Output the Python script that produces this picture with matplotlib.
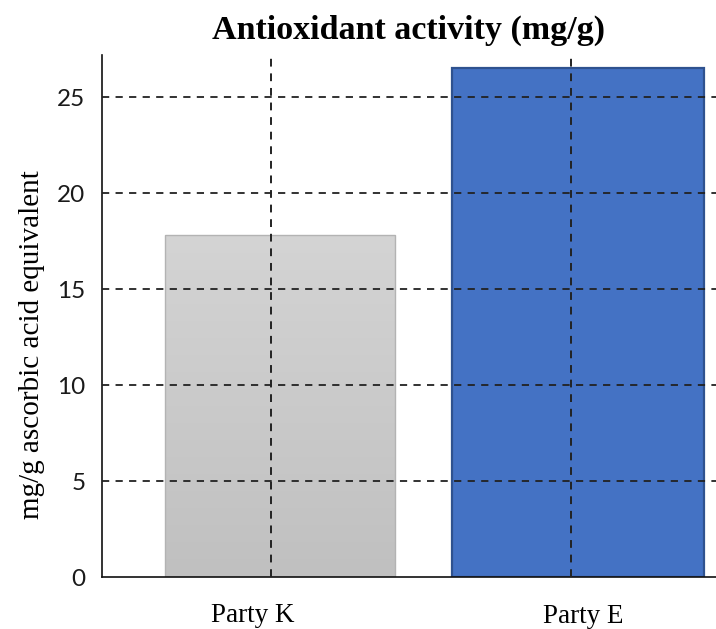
import matplotlib
matplotlib.use("Agg")
import matplotlib.pyplot as plt
import matplotlib.transforms as mtransforms
from matplotlib.colors import LinearSegmentedColormap
import numpy as np

categories = ["Party K", "Party E"]
values = [17.8, 26.5]
yticks = [0, 5, 10, 15, 20, 25]
title = "Antioxidant activity (mg/g)"
ylabel = "mg/g ascorbic acid equivalent"

W, H = 716, 629
fig = plt.figure(figsize=(W / 100, H / 100), dpi=100)
ax = fig.add_axes([102 / W, 1 - 577 / H, (716 - 102) / W, (577 - 55) / H])

pos = np.array([0.0, 1.0])
widths = [0.772, 0.846]

bars = ax.bar(pos, values, width=widths, zorder=2)
b0 = bars[0]
b0.set_facecolor("none")
b0.set_edgecolor("#b3b3b3")
b0.set_linewidth(1.0)
x0, w0, h0 = b0.get_x(), b0.get_width(), b0.get_height()
grad = np.linspace(0, 1, 256).reshape(-1, 1)
cmap = LinearSegmentedColormap.from_list("g", ["#c0c0c0", "#d4d4d4"])
im = ax.imshow(grad, extent=[x0, x0 + w0, 0, h0], origin="lower", cmap=cmap,
               aspect="auto", zorder=1.5)
im.set_clip_path(b0)
b1 = bars[1]
b1.set_facecolor("#4472c4")
b1.set_edgecolor("#2f528f")
b1.set_linewidth(1.6)
ax.set_xlim(-0.597, 1.463)
ax.set_ylim(0, 27.2)

for yv in yticks[1:]:
    ax.axhline(yv, color="#222222", lw=1.3, ls=(0, (4, 3.5)), zorder=3)
for xv in pos - np.array([0.03, 0.023]):
    ax.axvline(xv, color="#222222", lw=1.4, ls=(0, (4, 3.5)), zorder=3)

ax.set_yticks(yticks)
ax.set_yticklabels([str(t) for t in yticks], fontfamily="Lato", fontsize=17.5,
                   color="#1a1a1a")
ax.tick_params(axis="y", length=0, pad=12)
ax.set_xticks(pos)
ax.set_xticklabels(categories, fontfamily="Liberation Serif", fontsize=19.5)
ax.tick_params(axis="x", length=0, pad=19)
offs = [(-27, 0), (5, -1)]
for lab, (dx, dy) in zip(ax.get_xticklabels(), offs):
    lab.set_transform(lab.get_transform() +
                      mtransforms.ScaledTranslation(dx / 100, dy / 100, fig.dpi_scale_trans))

for s in ["top", "right"]:
    ax.spines[s].set_visible(False)
ax.spines["left"].set_color("#111111")
ax.spines["bottom"].set_color("#111111")
ax.spines["left"].set_linewidth(1.2)
ax.spines["bottom"].set_linewidth(1.2)

ax.set_title(title, fontfamily="Liberation Serif", fontweight="bold", fontsize=24.5, pad=12)
ax.set_ylabel(ylabel, fontfamily="Liberation Serif", fontsize=21)
ax.yaxis.set_label_coords(-57 / 614, 0.446)

fig.savefig("out.png", dpi=100)
